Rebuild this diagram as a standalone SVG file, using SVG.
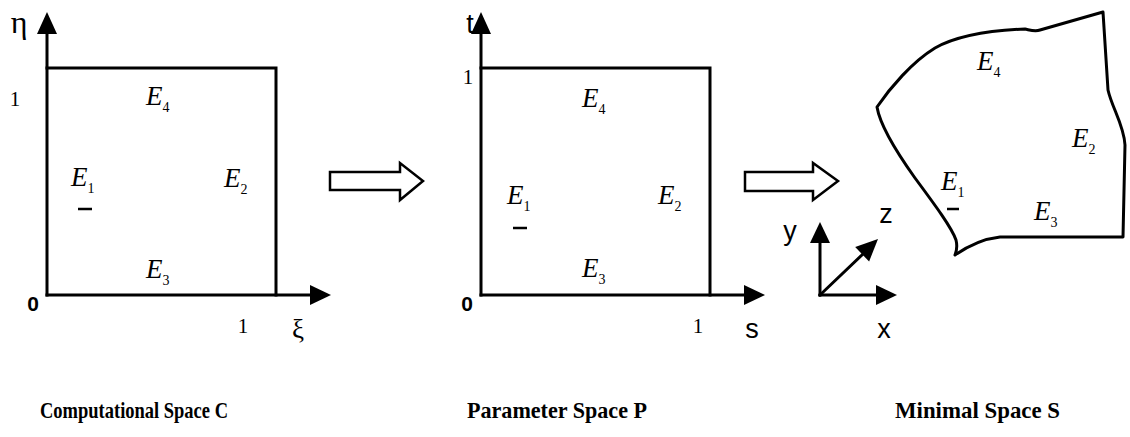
<svg xmlns="http://www.w3.org/2000/svg" width="1130" height="437" viewBox="0 0 1130 437">
<style>
.ln{stroke:#000;stroke-width:3;fill:none;stroke-linecap:square}
.hd{fill:#000;stroke:none}
.hol{fill:#fff;stroke:#000;stroke-width:2.5;stroke-linejoin:miter}
.e{font-family:"Liberation Serif",serif;font-style:italic;font-size:27px;fill:#000}
.sb{font-size:14px;font-style:normal}
.num{font-family:"Liberation Serif",serif;font-size:21px;fill:#000;text-anchor:middle}
.zero{font-family:"Liberation Sans",sans-serif;font-weight:bold;font-size:21px;fill:#000;text-anchor:middle}
.ax{font-family:"Liberation Sans",sans-serif;font-size:27px;fill:#000;text-anchor:middle}
.gr{font-family:"Liberation Serif",serif;font-size:32px;fill:#000;text-anchor:middle}
.ttl{font-family:"Liberation Serif",serif;font-weight:bold;font-size:23px;fill:#000}
.dash{stroke:#000;stroke-width:2.5}
</style>
<rect width="1130" height="437" fill="#fff"/>

<g id="computational-space">
  <line class="ln" x1="47" y1="295" x2="47" y2="32"/>
  <polygon class="hd" points="47,12 37,34 57,34"/>
  <polyline class="ln" points="47,68 276,68 276,295"/>
  <line class="ln" x1="47" y1="295" x2="312" y2="295"/>
  <polygon class="hd" points="331,295 310,285 310,305"/>
  <text class="gr" x="19" y="33">η</text>
  <text class="num" x="15" y="106">1</text>
  <text class="zero" x="33" y="311">0</text>
  <text class="num" x="243" y="333">1</text>
  <text class="gr" x="298" y="338" style="font-size:27px">ξ</text>
  <text class="e" x="146" y="105">E<tspan class="sb" dy="7">4</tspan></text>
  <text class="e" x="71" y="186">E<tspan class="sb" dy="7">1</tspan></text>
  <line class="dash" x1="78" y1="209" x2="92" y2="209"/>
  <text class="e" x="224" y="187">E<tspan class="sb" dy="7">2</tspan></text>
  <text class="e" x="146" y="278">E<tspan class="sb" dy="7">3</tspan></text>
  <text class="ttl" x="40" y="418" textLength="188" lengthAdjust="spacingAndGlyphs">Computational Space C</text>
</g>

<g id="parameter-space">
  <line class="ln" x1="481" y1="295" x2="481" y2="32"/>
  <polygon class="hd" points="481,12 471,34 491,34"/>
  <polyline class="ln" points="481,68 710,68 710,295"/>
  <line class="ln" x1="481" y1="295" x2="746" y2="295"/>
  <polygon class="hd" points="765,295 744,285 744,305"/>
  <text class="ax" x="470" y="33">t</text>
  <text class="num" x="468" y="84">1</text>
  <text class="zero" x="467" y="311">0</text>
  <text class="num" x="698" y="333">1</text>
  <text class="ax" x="752" y="338">s</text>
  <text class="e" x="582" y="107">E<tspan class="sb" dy="7">4</tspan></text>
  <text class="e" x="507" y="204">E<tspan class="sb" dy="7">1</tspan></text>
  <line class="dash" x1="513" y1="228" x2="527" y2="228"/>
  <text class="e" x="658" y="204">E<tspan class="sb" dy="7">2</tspan></text>
  <text class="e" x="582" y="277">E<tspan class="sb" dy="7">3</tspan></text>
  <text class="ttl" x="467" y="418" textLength="180" lengthAdjust="spacingAndGlyphs">Parameter Space P</text>
</g>

<g id="xyz-axes">
  <line class="ln" x1="820" y1="295" x2="820" y2="242"/>
  <polygon class="hd" points="820,222 810,243 830,243"/>
  <line class="ln" x1="820" y1="295" x2="877" y2="295"/>
  <polygon class="hd" points="897,295 876,285 876,305"/>
  <line class="ln" x1="820" y1="295" x2="863" y2="254"/>
  <polygon class="hd" points="878,239 869.1,261.5 855.2,247.1"/>
  <text class="ax" x="790" y="240">y</text>
  <text class="ax" x="886" y="223">z</text>
  <text class="ax" x="884" y="338">x</text>
</g>

<g id="minimal-space">
  <path class="ln" d="M1103,12 L1040,30 C1035,32 1030,30 1025,29 C1000,30 960,34 935,48 C912,62 890,88 877,107 C880,125 895,150 915,178 C935,205 952,228 956,240 C958,248 956,252 955,255 C968,246 982,239 1000,237 L1123,237 L1125,145 C1124,125 1112,108 1108,90 L1103,12 Z" style="stroke-linejoin:round"/>
  <text class="e" x="977" y="70">E<tspan class="sb" dy="7">4</tspan></text>
  <text class="e" x="1072" y="147">E<tspan class="sb" dy="7">2</tspan></text>
  <text class="e" x="941" y="190">E<tspan class="sb" dy="7">1</tspan></text>
  <line class="dash" x1="947" y1="209" x2="959" y2="209"/>
  <text class="e" x="1034" y="220">E<tspan class="sb" dy="7">3</tspan></text>
  <text class="ttl" x="895" y="418" textLength="165" lengthAdjust="spacingAndGlyphs">Minimal Space S</text>
</g>

<g id="connectors">
  <polygon class="hol" points="330,172 400,172 400,163 423,181 400,200 400,190 330,190"/>
  <polygon class="hol" points="745,172 813,172 813,163 838,181 813,200 813,191 745,191"/>
</g>
</svg>
